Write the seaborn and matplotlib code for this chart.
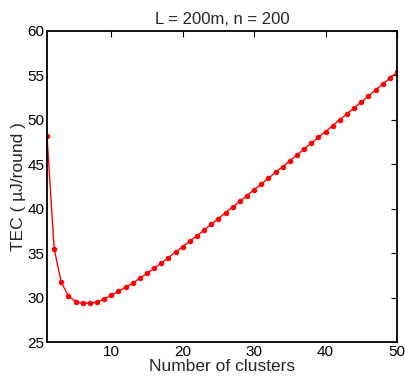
import numpy as np
import pandas as pd
import matplotlib
matplotlib.use('Agg')
import matplotlib.pyplot as plt
import seaborn as sns

# values
clusters = list(range(1, 51))
tec = [48.2, 35.5, 31.7, 30.2, 29.55, 29.35, 29.35, 29.5, 29.84, 30.25,
       30.7, 31.15, 31.64, 32.17, 32.73, 33.29, 33.89, 34.49, 35.13, 35.73,
       36.35, 36.95, 37.61, 38.25, 38.88, 39.55, 40.19, 40.83, 41.47, 42.14,
       42.78, 43.42, 44.12, 44.73, 45.4, 46.05, 46.72, 47.38, 48.04, 48.67,
       49.34, 50.02, 50.69, 51.33, 52.01, 52.69, 53.36, 54.04, 54.68, 55.35]

df = pd.DataFrame({'clusters': clusters, 'tec': tec})

sns.set_style('white')
plt.rcParams['font.family'] = ['Liberation Sans', 'DejaVu Sans']
plt.rcParams['xtick.direction'] = 'in'
plt.rcParams['ytick.direction'] = 'in'

fig = plt.figure(figsize=(4.05, 3.81), dpi=100)
ax = fig.add_axes([47/405, 39/381, 350/405, 311/381])

sns.lineplot(data=df, x='clusters', y='tec', ax=ax, color='red',
             linewidth=1.0, marker='o', markersize=3.2,
             markeredgecolor='red', markerfacecolor='red')

ax.set_xlim(1, 50)
ax.set_ylim(25, 60)
ax.set_xticks([10, 20, 30, 40, 50])
ax.set_yticks(np.arange(25, 61, 5))
ax.tick_params(axis='both', labelsize=11, length=4, width=0.8, colors='black',
               top=True, right=True, pad=2)
for s in ax.spines.values():
    s.set_visible(True)
    s.set_color('black')
    s.set_linewidth(1.3)

ax.set_title('L = 200m, n = 200', fontsize=12, pad=5)
ax.set_xlabel('Number of clusters', fontsize=12.5, labelpad=0.5)
ax.set_ylabel('TEC ( \u00b5J/round )', fontsize=12.5, labelpad=1)

fig.savefig('out.png', dpi=100)
